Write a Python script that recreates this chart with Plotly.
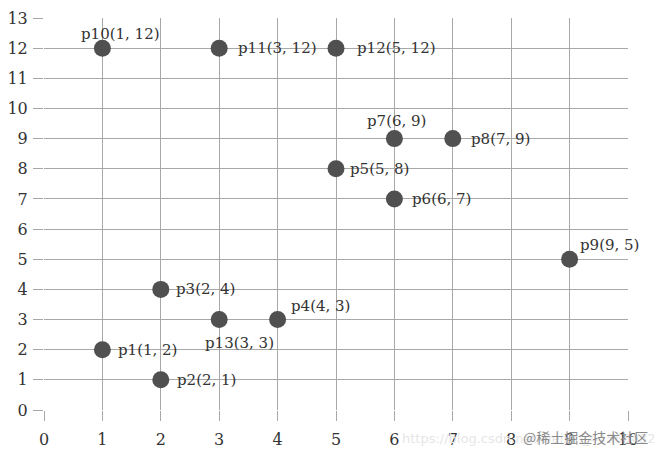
import plotly.graph_objects as go

names = ["p1", "p2", "p3", "p4", "p5", "p6", "p7", "p8", "p9", "p10", "p11", "p12", "p13"]
xs = [1, 2, 2, 4, 5, 6, 6, 7, 9, 1, 3, 5, 3]
ys = [2, 1, 4, 3, 8, 7, 9, 9, 5, 12, 12, 12, 3]
x_ticks = list(range(0, 11))
y_ticks = list(range(0, 14))

# label placement (pixel offsets from the point, anchor)
label_style = {
    "p1": (14, 0, "left"), "p2": (14, 0, "left"), "p3": (13, 0, "left"),
    "p4": (11, -14, "left"), "p5": (12, 0, "left"), "p6": (16, 0, "left"),
    "p7": (2, -18, "center"), "p8": (16, 0, "left"), "p9": (8, -14, "left"),
    "p10": (18, -14, "center"), "p11": (17, 0, "left"), "p12": (19, 0, "left"),
    "p13": (20, 23, "center"),
}

serif = "DejaVu Serif"
fig = go.Figure()
fig.add_trace(go.Scatter(
    x=xs, y=ys, mode="markers",
    marker=dict(size=17, color="#505050", line=dict(width=0)),
    hoverinfo="skip", showlegend=False,
))

for n, x, y in zip(names, xs, ys):
    dx, dy, anchor = label_style[n]
    fig.add_annotation(
        x=x, y=y, text=f"{n}({x}, {y})", showarrow=False,
        xanchor=anchor, yanchor="middle", xshift=dx, yshift=-dy,
        font=dict(family=serif, size=15, color="#333333"),
    )

fig.add_annotation(
    xref="paper", yref="paper", x=0.61, y=-0.072, xanchor="left", yanchor="middle",
    text="https://blog.csdn.net/weixin_44566432", showarrow=False,
    font=dict(family="DejaVu Sans", size=13, color="#e6e6e6"),
)
fig.add_annotation(
    xref="paper", yref="paper", x=1.038, y=-0.07, xanchor="right", yanchor="middle",
    text="@稀土掘金技术社区", showarrow=False,
    font=dict(family="Noto Sans CJK SC", size=14, color="#8a8a8a"),
)

axis_common = dict(
    showgrid=True, gridcolor="#a8a8a8", gridwidth=1.2,
    zeroline=False, showline=False, automargin=False,
    ticks="outside", ticklen=10, tickcolor="#a8a8a8", tickwidth=1.2,
    tickfont=dict(family=serif, size=16, color="#333333"),
)

fig.update_xaxes(range=[0, 10], tickvals=x_ticks, ticktext=[str(v) for v in x_ticks],
                 ticklabelstandoff=5, **axis_common)
fig.update_yaxes(range=[0, 13], tickvals=y_ticks, ticktext=[str(v) for v in y_ticks],
                 ticklabelstandoff=2, **axis_common)

fig.update_layout(
    width=662, height=462,
    margin=dict(l=36, r=42, t=10, b=60),
    paper_bgcolor="white", plot_bgcolor="white",
)

fig.write_html("out.html")
